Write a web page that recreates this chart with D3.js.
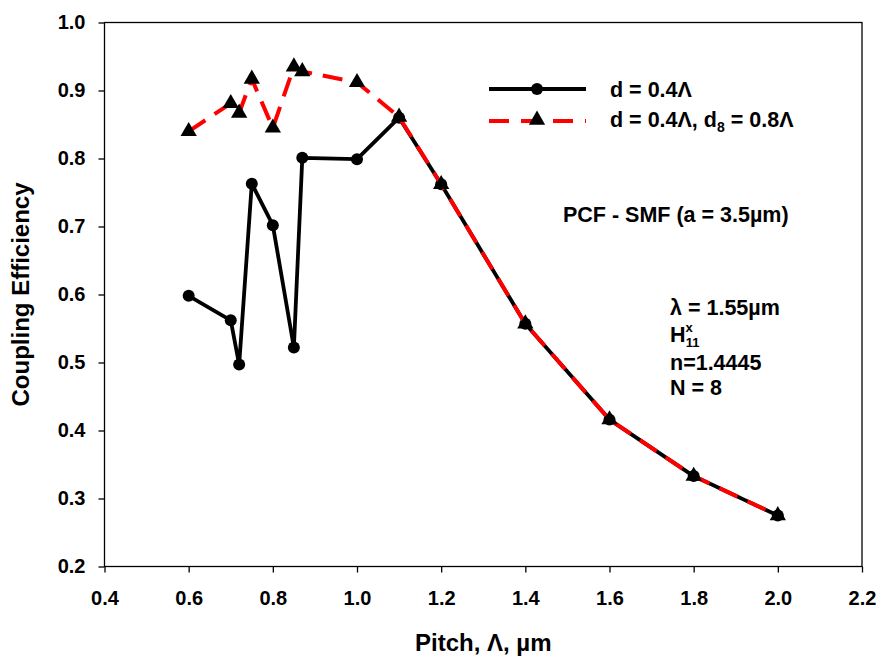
<!DOCTYPE html>
<html>
<head>
<meta charset="utf-8">
<script src="https://cdn.jsdelivr.net/npm/d3@7"></script>
<style>
  body { margin: 0; background: #fff; }
  text { font-family: "Liberation Sans", Arial, sans-serif; font-weight: bold; }
</style>
</head>
<body>
<div id="chart"></div>
<script>
// pitch values (um)
const pitchA = [0.6, 0.7, 0.72, 0.75, 0.8, 0.85, 0.87, 1.0, 1.1, 1.2, 1.4, 1.6, 1.8, 2.0];
// d = 0.4 Lambda
const effA = [0.598, 0.562, 0.497, 0.763, 0.702, 0.522, 0.801, 0.799, 0.860, 0.762, 0.557, 0.416, 0.333, 0.275];
// d = 0.4 Lambda, d8 = 0.8 Lambda
const effB = [0.840, 0.881, 0.867, 0.917, 0.845, 0.935, 0.928, 0.912, 0.861, 0.762, 0.557, 0.416, 0.333, 0.275];

const xTicks = [0.4, 0.6, 0.8, 1.0, 1.2, 1.4, 1.6, 1.8, 2.0, 2.2];
const yTicks = [0.2, 0.3, 0.4, 0.5, 0.6, 0.7, 0.8, 0.9, 1.0];

const width = 881, height = 659;
const margin = {top: 22.5, left: 104.5, right: 19, bottom: 92.5};
const innerW = width - margin.left - margin.right,
      innerH = height - margin.top - margin.bottom;

const svg = d3.select("#chart").append("svg")
  .attr("width", width)
  .attr("height", height);

const g = svg.append("g")
  .attr("transform", "translate(" + margin.left + "," + margin.top + ")");

const x = d3.scaleLinear().domain([0.4, 2.2]).range([0, innerW]);
const y = d3.scaleLinear().domain([0.2, 1.0]).range([innerH, 0]);

// frame
g.append("rect")
  .attr("width", innerW).attr("height", innerH)
  .attr("fill", "none").attr("stroke", "#000").attr("stroke-width", 1.3);

const fmt = d3.format(".1f");

const xAxis = g.append("g")
  .attr("transform", "translate(0," + innerH + ")")
  .call(d3.axisBottom(x).tickValues(xTicks).tickFormat(fmt).tickSize(6).tickSizeOuter(0).tickPadding(18));

const yAxis = g.append("g")
  .call(d3.axisLeft(y).tickValues(yTicks).tickFormat(fmt).tickSize(6).tickSizeOuter(0).tickPadding(13));

[xAxis, yAxis].forEach(a => {
  a.select(".domain").remove();
  a.selectAll("line").attr("stroke", "#000").attr("stroke-width", 1.3);
  a.selectAll("text").attr("font-size", 20).attr("fill", "#000")
    .style("font-family", "'Liberation Sans', Arial, sans-serif").style("font-weight", "bold");
});

// axis titles
svg.append("text")
  .attr("transform", "translate(29," + (margin.top + innerH / 2) + ") rotate(-90)")
  .attr("text-anchor", "middle")
  .attr("font-size", 24)
  .text("Coupling Efficiency");

svg.append("text")
  .attr("x", margin.left + innerW / 2)
  .attr("y", 651)
  .attr("text-anchor", "middle")
  .attr("font-size", 24)
  .text("Pitch, \u039B, \u00B5m");

const dataA = pitchA.map((p, i) => [p, effA[i]]);
const dataB = pitchA.map((p, i) => [p, effB[i]]);

const line = d3.line().x(d => x(d[0])).y(d => y(d[1]));
const tri = d3.symbol().type(d3.symbolTriangle).size(115);

// black series
g.append("path")
  .datum(dataA)
  .attr("d", line)
  .attr("fill", "none")
  .attr("stroke", "#000")
  .attr("stroke-width", 3.8)
  .attr("stroke-linejoin", "round");

g.append("g").selectAll("circle")
  .data(dataA)
  .join("circle")
  .attr("cx", d => x(d[0]))
  .attr("cy", d => y(d[1]))
  .attr("r", 6)
  .attr("fill", "#000");

// red dashed series
g.append("path")
  .datum(dataB)
  .attr("d", line)
  .attr("fill", "none")
  .attr("stroke", "#ff0000")
  .attr("stroke-width", 4)
  .attr("stroke-dasharray", "20,11");

g.append("g").selectAll("path")
  .data(dataB)
  .join("path")
  .attr("d", tri)
  .attr("transform", d => "translate(" + x(d[0]) + "," + y(d[1]) + ")")
  .attr("fill", "#000");

// legend
const leg = svg.append("g");
leg.append("line")
  .attr("x1", 489).attr("x2", 586).attr("y1", 89).attr("y2", 89)
  .attr("stroke", "#000").attr("stroke-width", 3.8);
leg.append("circle").attr("cx", 537).attr("cy", 89).attr("r", 6).attr("fill", "#000");
leg.append("text").attr("x", 610).attr("y", 97).attr("font-size", 21.5).text("d = 0.4\u039B");

leg.append("line")
  .attr("x1", 489).attr("x2", 586).attr("y1", 121).attr("y2", 121)
  .attr("stroke", "#ff0000").attr("stroke-width", 4).attr("stroke-dasharray", "20,12");
leg.append("path").attr("d", tri).attr("transform", "translate(537,120)").attr("fill", "#000");
const t2 = leg.append("text").attr("x", 610).attr("y", 127).attr("font-size", 21.5);
t2.append("tspan").text("d = 0.4\u039B, d");
t2.append("tspan").attr("font-size", 14).attr("dy", 5).text("8");
t2.append("tspan").attr("dy", -5).text(" = 0.8\u039B");

// annotations
svg.append("text").attr("x", 563).attr("y", 222).attr("font-size", 21.5)
  .text("PCF - SMF (a = 3.5\u00B5m)");

const notes = svg.append("g").attr("font-size", 21.5);
notes.append("text").attr("x", 670).attr("y", 315).text("\u03BB = 1.55\u00B5m");
const h = notes.append("text").attr("x", 670).attr("y", 342);
h.append("tspan").text("H");
h.append("tspan").attr("font-size", 13).attr("dy", -10).text("x");
h.append("tspan").attr("font-size", 13).attr("dx", -7).attr("dy", 15).text("11");
notes.append("text").attr("x", 670).attr("y", 370).text("n=1.4445");
notes.append("text").attr("x", 670).attr("y", 395).text("N = 8");
</script>
</body>
</html>
